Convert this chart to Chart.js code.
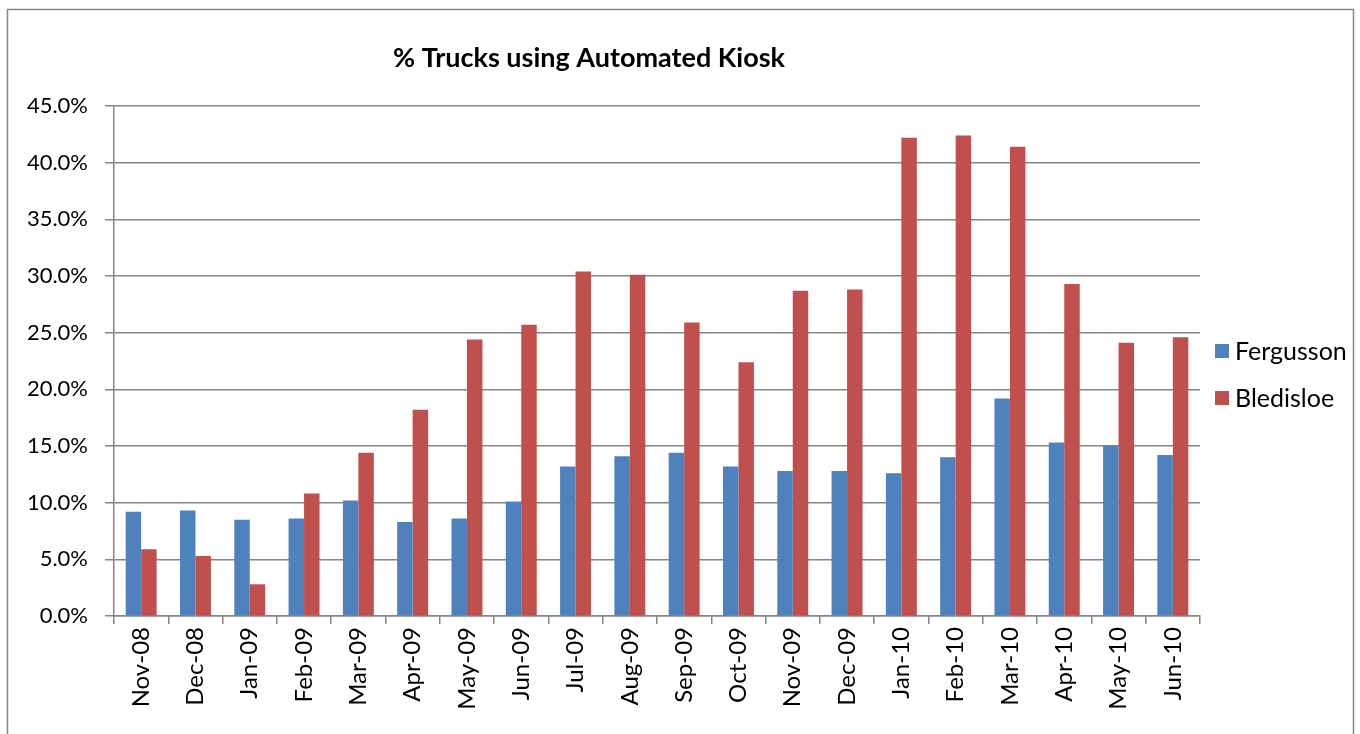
<!DOCTYPE html>
<html>
<head>
<meta charset="utf-8">
<script src="https://cdn.jsdelivr.net/npm/chart.js@4.4.1/dist/chart.umd.min.js"></script>
<style>
  html, body { margin: 0; padding: 0; background: #fff; }
  #wrap { width: 1360px; height: 734px; position: relative; }
</style>
</head>
<body>
<div id="wrap"><canvas id="kioskChart"></canvas></div>
<script>
// months on the x axis
const months = ['Nov-08', 'Dec-08', 'Jan-09', 'Feb-09', 'Mar-09', 'Apr-09', 'May-09', 'Jun-09',
    'Jul-09', 'Aug-09', 'Sep-09', 'Oct-09', 'Nov-09', 'Dec-09', 'Jan-10', 'Feb-10',
    'Mar-10', 'Apr-10', 'May-10', 'Jun-10'];

// % of trucks using the kiosk, per terminal
const fergusson = [9.2, 9.3, 8.5, 8.6, 10.2, 8.3, 8.6, 10.1, 13.2, 14.1, 14.4, 13.2,
    12.8, 12.8, 12.6, 14.0, 19.2, 15.3, 15.0, 14.2];
const bledisloe = [5.9, 5.3, 2.8, 10.8, 14.4, 18.2, 24.4, 25.7, 30.4, 30.1, 25.9, 22.4,
    28.7, 28.8, 42.2, 42.4, 41.4, 29.3, 24.1, 24.6];

const chartTitle = '% Trucks using Automated Kiosk';
const gridGrey = '#858585';
const fontFamily = 'Lato, "Open Sans", sans-serif';

// frame, title and legend drawn around the chart
const decorations = {
    id: 'decorations',
    afterDraw(chart) {
        const c = chart.ctx;
        c.save();
        c.strokeStyle = gridGrey;
        c.lineWidth = 1.5;
        c.strokeRect(7.5, 9.5, 1346, 760);

        c.fillStyle = '#000';
        c.font = 'bold 27px ' + fontFamily;
        c.textAlign = 'center';
        c.textBaseline = 'middle';
        c.fillText(chartTitle, 589, 58);

        c.font = '25px ' + fontFamily;
        c.textAlign = 'left';
        const ys = [351, 398];
        chart.data.datasets.forEach(function(ds, i) {
            c.fillStyle = ds.backgroundColor;
            c.fillRect(1215, ys[i] - 7, 14, 14);
            c.fillStyle = '#000';
            c.fillText(ds.label, 1235, ys[i] + 1);
        });
        c.restore();
    }
};

const ctx = document.getElementById('kioskChart').getContext('2d');

new Chart(ctx, {
    type: 'bar',
    data: {
        labels: months,
        datasets: [{
            label: 'Fergusson',
            data: fergusson,
            backgroundColor: '#4F81BD',
            categoryPercentage: 0.57,
            barPercentage: 1.0
        }, {
            label: 'Bledisloe',
            data: bledisloe,
            backgroundColor: '#C0504D',
            categoryPercentage: 0.57,
            barPercentage: 1.0
        }]
    },
    options: {
        responsive: true,
        maintainAspectRatio: false,
        animation: false,
        layout: { padding: { top: 106, left: 10, right: 160, bottom: 0 } },
        plugins: {
            legend: { display: false },
            title: { display: false },
            tooltip: { enabled: false }
        },
        scales: {
            x: {
                offset: true,
                afterFit: function(s) { s.height = 118; },
                grid: {
                    display: true,
                    drawOnChartArea: false,
                    drawTicks: true,
                    tickLength: 8,
                    color: gridGrey,
                    lineWidth: 1.5
                },
                border: { color: gridGrey, width: 1.5 },
                ticks: {
                    color: '#000',
                    minRotation: 90,
                    maxRotation: 90,
                    autoSkip: false,
                    padding: 3,
                    font: { size: 24, family: fontFamily }
                }
            },
            y: {
                min: 0,
                max: 45,
                afterFit: function(s) { s.width = 104; },
                grid: {
                    color: gridGrey,
                    lineWidth: 1.5,
                    tickLength: 9
                },
                border: { color: gridGrey, width: 1.5 },
                ticks: {
                    stepSize: 5,
                    color: '#000',
                    padding: 17,
                    font: { size: 22, family: fontFamily },
                    callback: function(v) { return v.toFixed(1) + '%'; }
                }
            }
        }
    },
    plugins: [decorations]
});
</script>
</body>
</html>
